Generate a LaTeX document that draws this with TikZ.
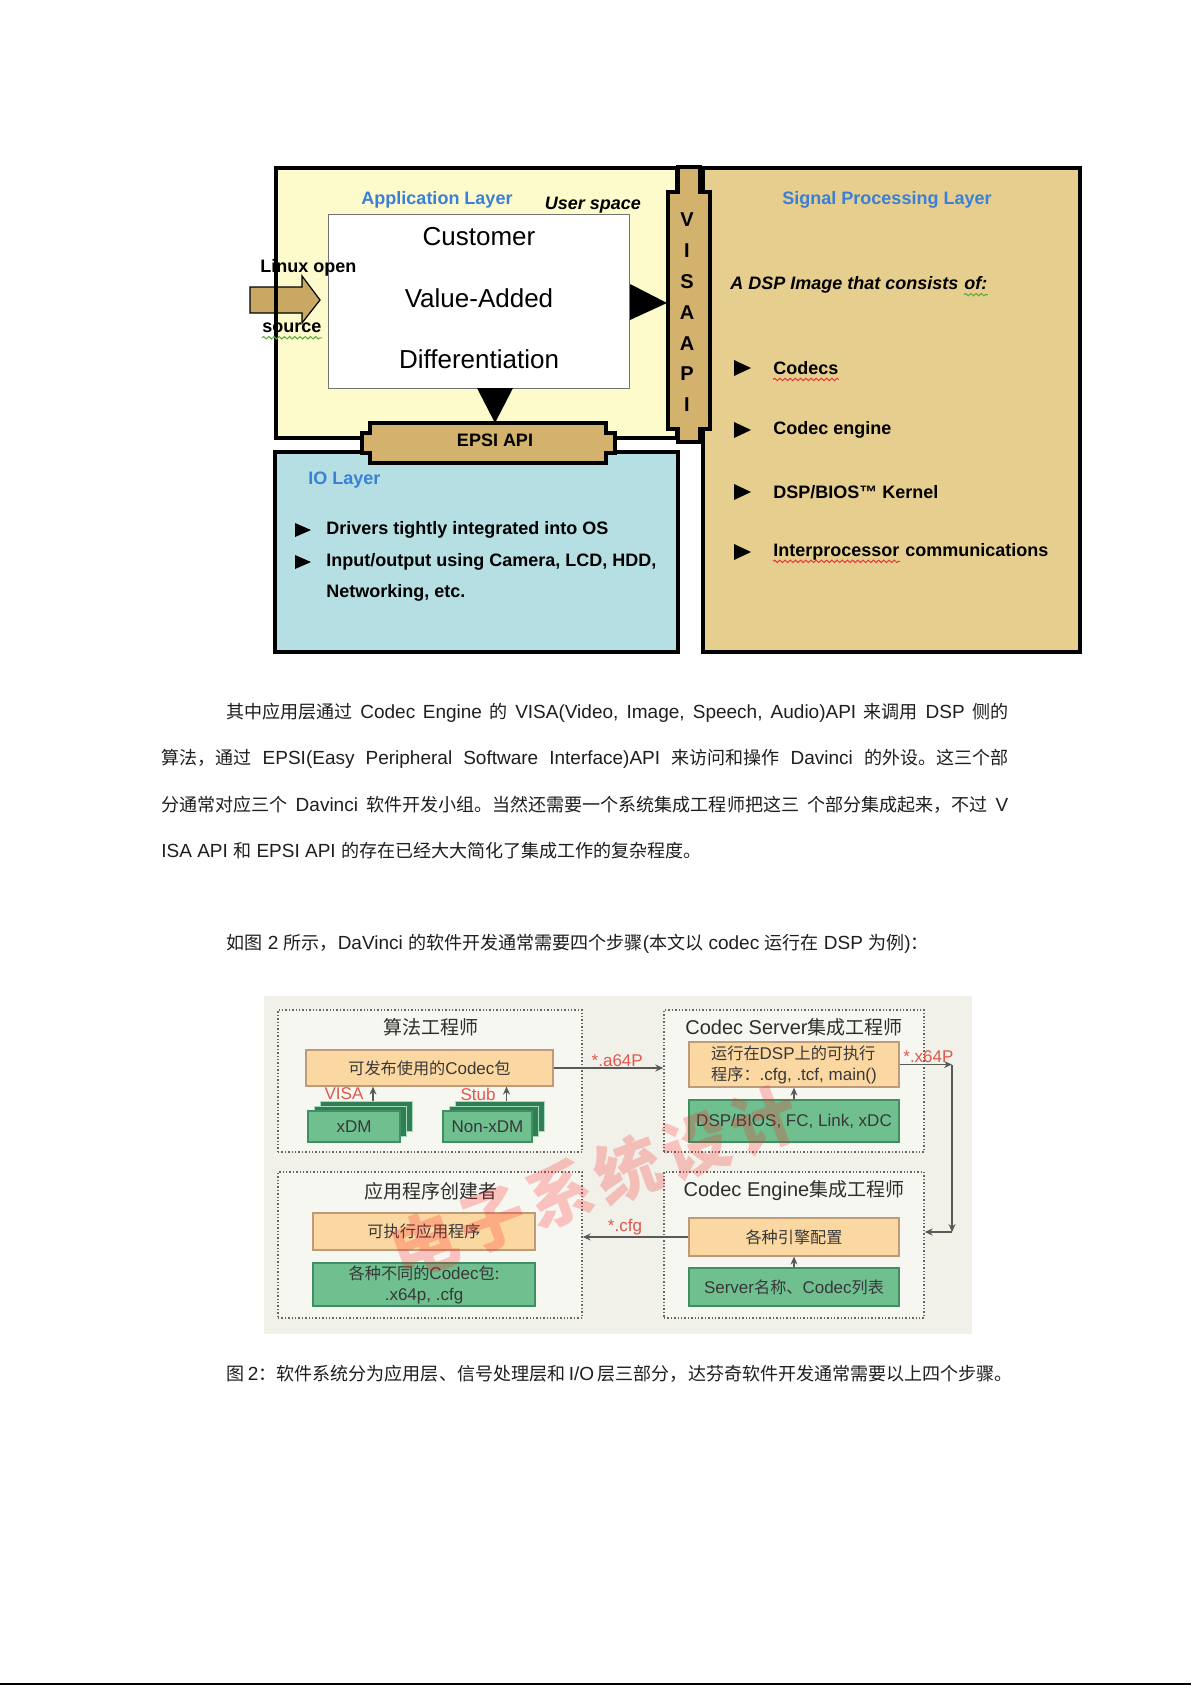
\documentclass[tikz,border=0pt]{standalone}
\usepackage{fontspec}
\setmainfont{Liberation Sans}
\newfontfamily\cjk[Scale=0.95]{Noto Sans CJK SC}
\usetikzlibrary{arrows.meta, positioning, fit, calc, decorations.pathmorphing}

\definecolor{appyellow}{HTML}{FDFBCB}
\definecolor{dsptan}{HTML}{E6CE8E}
\definecolor{iocyan}{HTML}{B5DFE3}
\definecolor{apitan}{HTML}{D2B26C}
\definecolor{arrowtan}{HTML}{C9A863}
\definecolor{titleblue}{HTML}{3A80D6}
\definecolor{panelgray}{HTML}{F1F1EA}
\definecolor{groupgray}{HTML}{F7F7F2}
\definecolor{pkgorange}{HTML}{FBD8A2}
\definecolor{pkgedge}{HTML}{BE9A78}
\definecolor{libgreen}{HTML}{70BF8F}
\definecolor{libedge}{HTML}{3F8F62}
\definecolor{stackgreen}{HTML}{2F7F54}
\definecolor{flowred}{HTML}{E0574B}
\definecolor{wavered}{HTML}{E03A3A}
\definecolor{wavegreen}{HTML}{5AA83A}
\definecolor{bodyink}{HTML}{1E1E1E}

\newcommand{\zh}[1]{{\cjk #1}}
\XeTeXlinebreaklocale "zh"
\XeTeXlinebreakskip=0pt plus 2pt

\begin{document}
\begin{tikzpicture}[x=0.5pt, y=-0.5pt,
  layerbox/.style={draw=black, line width=1.8pt, inner sep=0pt, outer sep=0pt},
  lbl/.style={font=\bfseries\fontsize{9}{11}\selectfont, inner sep=0pt},
  ttl/.style={lbl, text=titleblue},
  itemtxt/.style={lbl, anchor=west},
  apibar/.style={draw=black, line width=1.6pt, fill=apitan},
  bigtxt/.style={font=\fontsize{13}{15}\selectfont, inner sep=0pt},
  bodytext/.style={font=\fontsize{9.5}{12}\selectfont, text=bodyink, inner sep=0pt, anchor=west},
  grpbox/.style={draw=black!60, densely dotted, line width=0.7pt, fill=groupgray, inner sep=0pt},
  grouptitle/.style={font=\fontsize{10}{12}\selectfont, text=black!82, inner sep=0pt},
  pkgbox/.style={draw=pkgedge, line width=0.6pt, fill=pkgorange, inner sep=0pt},
  libbox/.style={draw=libedge, line width=0.6pt, fill=libgreen, inner sep=0pt},
  boxtxt/.style={font=\fontsize{8.5}{10.5}\selectfont, text=black!78, inner sep=0pt, align=center},
  stackbox/.style={draw=libgreen!60, line width=0.5pt, fill=stackgreen, inner sep=0pt},
  flow/.style={draw=black!65, line width=0.6pt, -{Stealth[length=4pt, width=3.5pt]}},
  flowlbl/.style={font=\fontsize{8.5}{10}\selectfont, text=flowred, inner sep=0.5pt},
  wavy/.style={decorate, decoration={snake, amplitude=0.6pt, segment length=2.6pt}, line width=0.5pt},
  watermark/.style={font=\bfseries\fontsize{35}{37}\selectfont, text=red!85, opacity=0.25}
]
% page
\fill[white] (0,0) rectangle (1191,1685);
\useasboundingbox (0,0) rectangle (1191,1685);

% ---- software layers ----
\node[layerbox, fill=appyellow, fit={(276,168) (677,438)}] (app) {};
\node[layerbox, fill=iocyan, fit={(275,452) (678,652)}] (io) {};
\node[layerbox, fill=dsptan, fit={(703,168) (1080,652)}] (dsp) {};

\node[draw=black!55, line width=0.5pt, fill=white, inner sep=0pt, outer sep=0pt,
      fit={(328,215) (629,388)}] (value) {};
\node[bigtxt] (cust) at (479,237) {Customer};
\node[bigtxt] (vadd) at (479,298) {Value-Added};
\node[bigtxt] (diff) at (479,359) {Differentiation};

% linux input arrow
\draw[fill=arrowtan, line width=0.6pt] (250,287) -- (302,287) -- (302,276) -- (320,300)
  -- (302,323) -- (302,313) -- (250,313) -- cycle;
\draw[line width=1.8pt] (app.north west) -- (app.south west);
\node[lbl, anchor=west] (linuxtop) at (260,268) {Linux open};
\node[lbl, anchor=west] (linuxbot) at (262,328) {source};
\draw[wavy, wavegreen] ($(linuxbot.base west)+(0,5)$) -- ($(linuxbot.base east)+(0,5)$);

\node[ttl] (apptitle) at (437,200) {Application Layer};
\node[lbl, font=\bfseries\itshape\fontsize{9}{11}\selectfont] (userspace) at (593,205) {User space};
\node[ttl] (dsptitle) at (887,200) {Signal Processing Layer};
\node[ttl, anchor=west] (iotitle) at (308,480) {IO Layer};

% API bars
\draw[apibar] (678,167) -- (700,167) -- (700,192) -- (710,192) -- (710,429) -- (700,429)
  -- (700,442) -- (678,442) -- (678,429) -- (668,429) -- (668,192) -- (678,192) -- cycle;
\foreach \ch [count=\i from 0] in {V,I,S,A,A,P,I}
  \node[lbl, font=\bfseries\fontsize{10}{12}\selectfont] (visa\i) at (687,220+30.8*\i) {\ch};
\draw[apibar] (362,433) -- (370,433) -- (370,423) -- (606,423) -- (606,433) -- (615,433)
  -- (615,453) -- (606,453) -- (606,463) -- (370,463) -- (370,453) -- (362,453) -- cycle;
\node[lbl] (epsi) at (495,440) {EPSI API};

\fill (630,284) -- (667,303) -- (630,320) -- cycle;
\fill (477,388) -- (513,388) -- (495,423) -- cycle;

% DSP side
\node[lbl, font=\bfseries\itshape\fontsize{9}{11}\selectfont, anchor=west] (dspimage) at (730,285)
  {A DSP Image that consists};
\node[lbl, font=\bfseries\itshape\fontsize{9}{11}\selectfont, right=2.6pt of dspimage.base east,
      anchor=base west] (dspof) {of:};
\draw[wavy, wavegreen] ($(dspof.base west)+(0,5)$) -- ($(dspof.base east)+(0,5)$);
\node[itemtxt] (codecs) at (773,368) {Codecs};
\node[itemtxt, below=31pt of codecs.west, anchor=west] (engine) {Codec engine};
\node[itemtxt, below=31pt of engine.west, anchor=west] (bios) {DSP/BIOS™ Kernel};
\node[itemtxt, below=30pt of bios.west, anchor=west] (ipc) {Interprocessor};
\node[lbl, right=2.5pt of ipc.base east, anchor=base west] (ipccomm) {communications};
\draw[wavy, wavered] ($(codecs.base west)+(0,5)$) -- ($(codecs.base east)+(0,5)$);
\draw[wavy, wavered] ($(ipc.base west)+(0,5)$) -- ($(ipc.base east)+(0,5)$);
\foreach \n in {codecs, engine, bios, ipc}
  \fill ($(\n.west)+(-39,-8)$) -- ($(\n.west)+(-22,0)$) -- ($(\n.west)+(-39,8)$) -- cycle;

% IO side
\node[itemtxt] (iodrv) at (326,530) {Drivers tightly integrated into OS};
\node[itemtxt, below=16pt of iodrv.west, anchor=west] (iouse) {Input/output using Camera, LCD, HDD,};
\node[itemtxt, below=15.5pt of iouse.west, anchor=west] (ionet) {Networking, etc.};
\foreach \n in {iodrv, iouse}
  \fill ($(\n.west)+(-31,-7)$) -- ($(\n.west)+(-15,0)$) -- ($(\n.west)+(-31,7)$) -- cycle;

% ---- body text ----
\node[bodytext] (para1) at (226,713) {\hbox to 391pt{\zh{其中应用层通过} Codec Engine \zh{的} VISA(Video, Image, Speech, Audio)API \zh{来调用} DSP \zh{侧的}}};
\node[bodytext] (para2) at (161,759) {\hbox to 423.5pt{\zh{算法，通过} EPSI(Easy Peripheral Software Interface)API \zh{来访问和操作} Davinci \zh{的外设。这三个部}}};
\node[bodytext] (para3) at (161,805) {\hbox to 423.5pt{\zh{分通常对应三个} Davinci \zh{软件开发小组。当然还需要一个系统集成工程师把这三} \zh{个部分集成起来，不过} V}};
\node[bodytext] (para4) at (161,851) {ISA API \zh{和} EPSI API \zh{的存在已经大大简化了集成工作的复杂程度。}};
\node[bodytext] (para5) at (226,944) {\zh{如图} 2 \zh{所示，}DaVinci \zh{的软件开发通常需要四个步骤}(\zh{本文以} codec \zh{运行在} DSP \zh{为例})\zh{：}};

% ---- development steps ----
\node[fill=panelgray, inner sep=0pt, outer sep=0pt, fit={(264,996) (972,1334)}] (panel) {};
\node[grpbox, fit={(278,1010) (582,1152)}] (algo) {};
\node[grpbox, fit={(664,1010) (924,1152)}] (server) {};
\node[grpbox, fit={(278,1172) (582,1318)}] (appdev) {};
\node[grpbox, fit={(664,1172) (924,1318)}] (enginegrp) {};
\node[grouptitle] (algotitle) at (431,1027) {\zh{算法工程师}};
\node[grouptitle] (servertitle) at (794,1027) {Codec Server\zh{集成工程师}};
\node[grouptitle] (appdevtitle) at (431,1191) {\zh{应用程序创建者}};
\node[grouptitle] (enginetitle) at (794,1191) {Codec Engine\zh{集成工程师}};

\node[pkgbox, fit={(306,1050) (553,1086)}] (pkg) {};
\node[boxtxt] (pkgtxt) at (pkg.center) {\zh{可发布使用的}Codec\zh{包}};
\node[pkgbox, fit={(689,1042) (899,1087)}] (exe) {};
\node[boxtxt, align=left] (exetxt) at (exe.center) {\zh{运行在}DSP\zh{上的可执行}\\\zh{程序：}.cfg, .tcf, main()};
\node[libbox, fit={(689,1100) (899,1142)}] (bioslib) {};
\node[boxtxt] (biostxt) at (bioslib.center) {DSP/BIOS, FC, Link, xDC};

\node[stackbox, fit={(320,1101) (412,1131)}] (xdmc) {};
\node[stackbox, fit={(314,1106) (406,1136)}] (xdmb) {};
\node[libbox, fit={(308,1111) (400,1142)}] (xdm) {};
\node[boxtxt] (xdmtxt) at (xdm.center) {xDM};
\node[stackbox, fit={(455,1101) (544,1131)}] (nonxdmc) {};
\node[stackbox, fit={(449,1106) (538,1136)}] (nonxdmb) {};
\node[libbox, fit={(443,1111) (532,1142)}] (nonxdm) {};
\node[boxtxt] (nonxdmtxt) at (nonxdm.center) {Non-xDM};
\node[flowlbl] (visalbl) at (344,1094) {VISA};
\node[flowlbl] (stublbl) at (478,1094) {Stub};

\node[pkgbox, fit={(313,1213) (535,1250)}] (appexe) {};
\node[boxtxt] (appexetxt) at (appexe.center) {\zh{可执行应用程序}};
\node[libbox, fit={(313,1263) (535,1306)}] (codeclist) {};
\node[boxtxt] (codeclisttxt) at (codeclist.center) {\zh{各种不同的}Codec\zh{包:}\\.x64p, .cfg};
\node[pkgbox, fit={(689,1218) (899,1256)}] (cfgbox) {};
\node[boxtxt] (cfgtxt) at (cfgbox.center) {\zh{各种引擎配置}};
\node[libbox, fit={(689,1268) (899,1306)}] (srvlist) {};
\node[boxtxt] (srvlisttxt) at (srvlist.center) {Server\zh{名称、}Codec\zh{列表}};

\draw[flow] ($(xdmc.north)+(7,0)$) -- ($(xdmc.north |- pkg.south)+(7,0)$);
\draw[flow] ($(nonxdmc.north)+(7,0)$) -- ($(nonxdmc.north |- pkg.south)+(7,0)$);
\draw[flow] (pkg.east) -- (pkg.east -| server.west) node[flowlbl, above, pos=0.58] (a64p) {*.a64P};
\draw[flow] (bioslib.north) -- (exe.south);
\coordinate (turntop) at (952,1065);
\coordinate (turnbot) at (952,1232);
\draw[flow] (exe.east) -- (exe.east -| turntop) node[flowlbl, above, pos=0.55] (x64p) {*.x64P};
\draw[flow] (turntop) -- (turnbot);
\draw[flow] (turnbot) -- (turnbot -| enginegrp.east);
\draw[flow] (srvlist.north) -- (cfgbox.south);
\draw[flow] (cfgbox.west) -- (cfgbox.west -| appdev.east) node[flowlbl, above, pos=0.6] (cfglbl) {*.cfg};

\node[watermark, rotate=20] (wm) at (594,1182)
  {\zh{电\hspace{3pt}子\hspace{3pt}系\hspace{3pt}统\hspace{3pt}设\hspace{3pt}计}};

\node[bodytext] (caption) at (226,1374) {\hbox to 391pt{\zh{图} 2\zh{：软件系统分为应用层、信号处理层和} I/O \zh{层三部分，达芬奇软件开发通常需要以上四个步骤。}}};

\draw[line width=1pt] (0,1684) -- (1191,1684);
\end{tikzpicture}
\end{document}
